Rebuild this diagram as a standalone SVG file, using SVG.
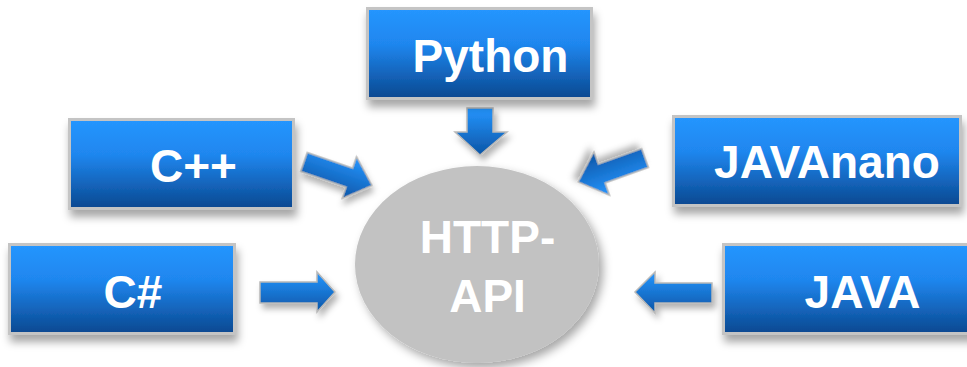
<svg xmlns="http://www.w3.org/2000/svg" width="967" height="367" viewBox="0 0 967 367">
<style>
.box{fill:url(#blue);stroke:#c4c4c4;stroke-width:3;filter:url(#sh)}
.lbl{font-family:"Liberation Sans",Arial,sans-serif;font-weight:bold;font-size:46px;fill:#fff;text-anchor:middle}
.arr{fill:url(#blueA);stroke:#b8b8b8;stroke-width:1.5;stroke-linejoin:miter;filter:url(#shA)}
</style>
<defs>
<linearGradient id="blue" x1="0" y1="0" x2="0" y2="1">
<stop offset="0" stop-color="#2596ff"/>
<stop offset="0.4" stop-color="#1f86ee"/>
<stop offset="1" stop-color="#0a4890"/>
</linearGradient>
<linearGradient id="blueA" x1="0" y1="0" x2="0" y2="1">
<stop offset="0" stop-color="#2596ff"/>
<stop offset="1" stop-color="#0c55a6"/>
</linearGradient>
<filter id="sh" x="-10%" y="-10%" width="125%" height="135%">
<feDropShadow dx="2" dy="7" stdDeviation="4" flood-color="#000" flood-opacity="0.35"/>
</filter>
<filter id="shA" x="-30%" y="-30%" width="170%" height="170%">
<feDropShadow dx="3" dy="5" stdDeviation="3" flood-color="#000" flood-opacity="0.3"/>
</filter>
<filter id="shE" x="-10%" y="-10%" width="125%" height="130%">
<feDropShadow dx="4" dy="5" stdDeviation="5" flood-color="#000" flood-opacity="0.35"/>
</filter>
</defs>
<rect width="967" height="367" fill="#fff"/>
<g id="connectors">
<polygon class="arr" points="467,108 493,108 493,132 507,132 480,155 455,132 467,132"/>
<polygon class="arr" transform="translate(304,162) rotate(19)" points="0,-10 48,-10 48,-22 72,0 48,22 48,10 0,10"/>
<polygon class="arr" transform="translate(645,158) rotate(160.3)" points="0,-10 46,-10 46,-23 71,0 46,23 46,10 0,10"/>
<polygon class="arr" points="260,282 317,282 317,272 335,292 317,312 317,303 260,303"/>
<polygon class="arr" points="712,283 655,283 655,272 635,292 655,313 655,303 712,303"/>
</g>
<g id="http-api">
<ellipse cx="477" cy="264.5" rx="122" ry="98.5" fill="#c2c2c2" filter="url(#shE)"/>
<text class="lbl" x="487.5" y="253" fill="#f8f8f8">HTTP-</text>
<text class="lbl" x="487.5" y="312" fill="#f8f8f8">API</text>
</g>
<g id="python">
<rect class="box" x="367.5" y="8.5" width="224" height="90"/>
<text class="lbl" x="490.5" y="72">Python</text>
</g>
<g id="cpp">
<rect class="box" x="69.5" y="119.5" width="224" height="89"/>
<text class="lbl" x="193.5" y="182">C++</text>
</g>
<g id="javanano">
<rect class="box" x="673.5" y="116.5" width="287" height="89"/>
<text class="lbl" x="827" y="178">JAVAnano</text>
</g>
<g id="csharp">
<rect class="box" x="9.5" y="244.5" width="225" height="89"/>
<text class="lbl" x="133" y="308">C#</text>
</g>
<g id="java">
<rect class="box" x="723.5" y="244.5" width="262" height="89"/>
<text class="lbl" x="862.5" y="308">JAVA</text>
</g>
</svg>
